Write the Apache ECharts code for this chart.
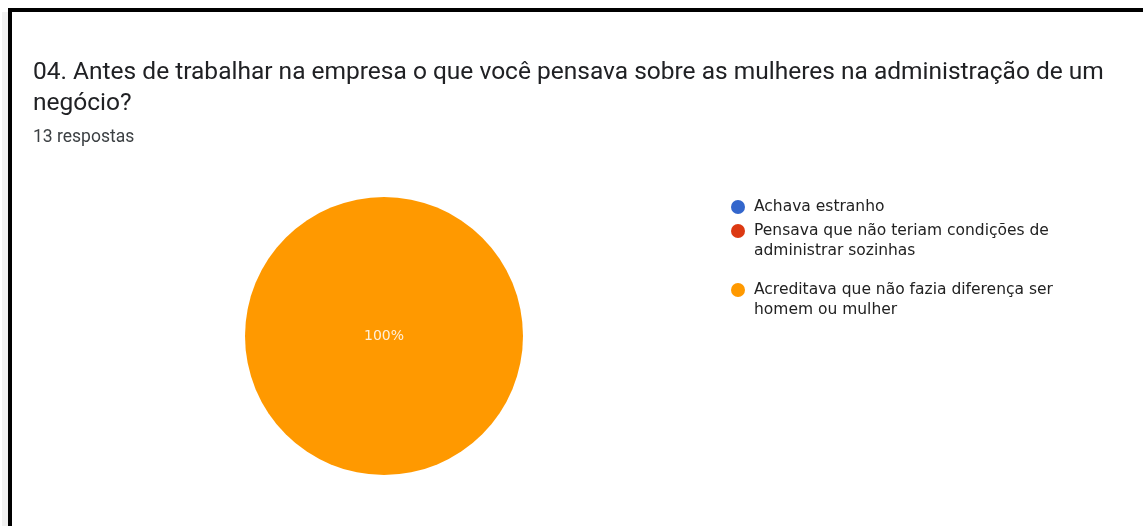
<!DOCTYPE html>
<html>
<head>
<meta charset="utf-8">
<script src="https://cdn.jsdelivr.net/npm/echarts@6/dist/echarts.min.js"></script>
<style>
  html, body { margin: 0; padding: 0; background: #ffffff; }
  #chart { width: 1143px; height: 526px; }
</style>
</head>
<body>
<div id="chart"></div>
<script>
// Survey question, answer count and response options
const questionText = '04. Antes de trabalhar na empresa o que você pensava sobre as mulheres na administração de um\nnegócio?';
const responseText = '13 respostas';
const answerNames = [
  'Achava estranho',
  'Pensava que não teriam condições de\nadministrar sozinhas',
  'Acreditava que não fazia diferença ser\nhomem ou mulher'
];
const answerCounts = [0, 0, 13];
const answerColors = ['#3366cc', '#dc3912', '#ff9900'];

// Legend rows: top edge for each entry
const legendTops = [197, 201, 260];

const chart = echarts.init(document.getElementById('chart'), null, { renderer: 'canvas' });

const legendFont = {
  fontFamily: 'DejaVu Sans',
  fontSize: 15.5,
  color: '#222222',
  lineHeight: 20,
  padding: [0, 0, 0, 4]
};

// Wrapped names get an empty leading line so the marker sits on the first text line
const legends = answerNames.map((name, i) => ({
  data: [name],
  orient: 'vertical',
  left: 731,
  top: legendTops[i],
  icon: 'circle',
  itemWidth: 14,
  itemHeight: 14,
  padding: 0,
  selectedMode: false,
  formatter: n => (n.indexOf('\n') >= 0 ? ' \n' + n : n),
  textStyle: legendFont
}));

chart.setOption({
  animation: false,
  color: answerColors,
  title: [
    {
      text: questionText,
      left: 33,
      top: 57,
      padding: 0,
      textStyle: {
        fontFamily: 'Roboto',
        fontSize: 24.5,
        fontWeight: 'normal',
        color: '#202124',
        lineHeight: 31
      }
    },
    {
      text: responseText,
      left: 33,
      top: 129,
      padding: 0,
      textStyle: {
        fontFamily: 'Roboto',
        fontSize: 17.5,
        fontWeight: 'normal',
        color: '#3c4043',
        lineHeight: 18
      }
    }
  ],
  legend: legends,
  graphic: [
    // frame edges
    { type: 'rect', shape: { x: 8, y: 8, width: 1135, height: 4 }, style: { fill: '#000' }, silent: true },
    { type: 'rect', shape: { x: 8, y: 8, width: 4, height: 518 }, style: { fill: '#000' }, silent: true },
    { type: 'rect', shape: { x: 2, y: 12, width: 6, height: 514 }, style: { fill: '#f1f1f1' }, silent: true }
  ],
  series: [
    {
      type: 'pie',
      center: [384, 336],
      radius: 139,
      startAngle: 90,
      itemStyle: { borderWidth: 0 },
      emphasis: { disabled: true },
      label: {
        show: true,
        position: 'center',
        formatter: p => (p.value > 0 ? p.percent + '%' : ''),
        color: 'rgba(255,255,255,0.85)',
        fontFamily: 'DejaVu Sans',
        fontSize: 14
      },
      labelLine: { show: false },
      data: answerNames.map((name, i) => ({ name: name, value: answerCounts[i] }))
    }
  ]
});
</script>
</body>
</html>
